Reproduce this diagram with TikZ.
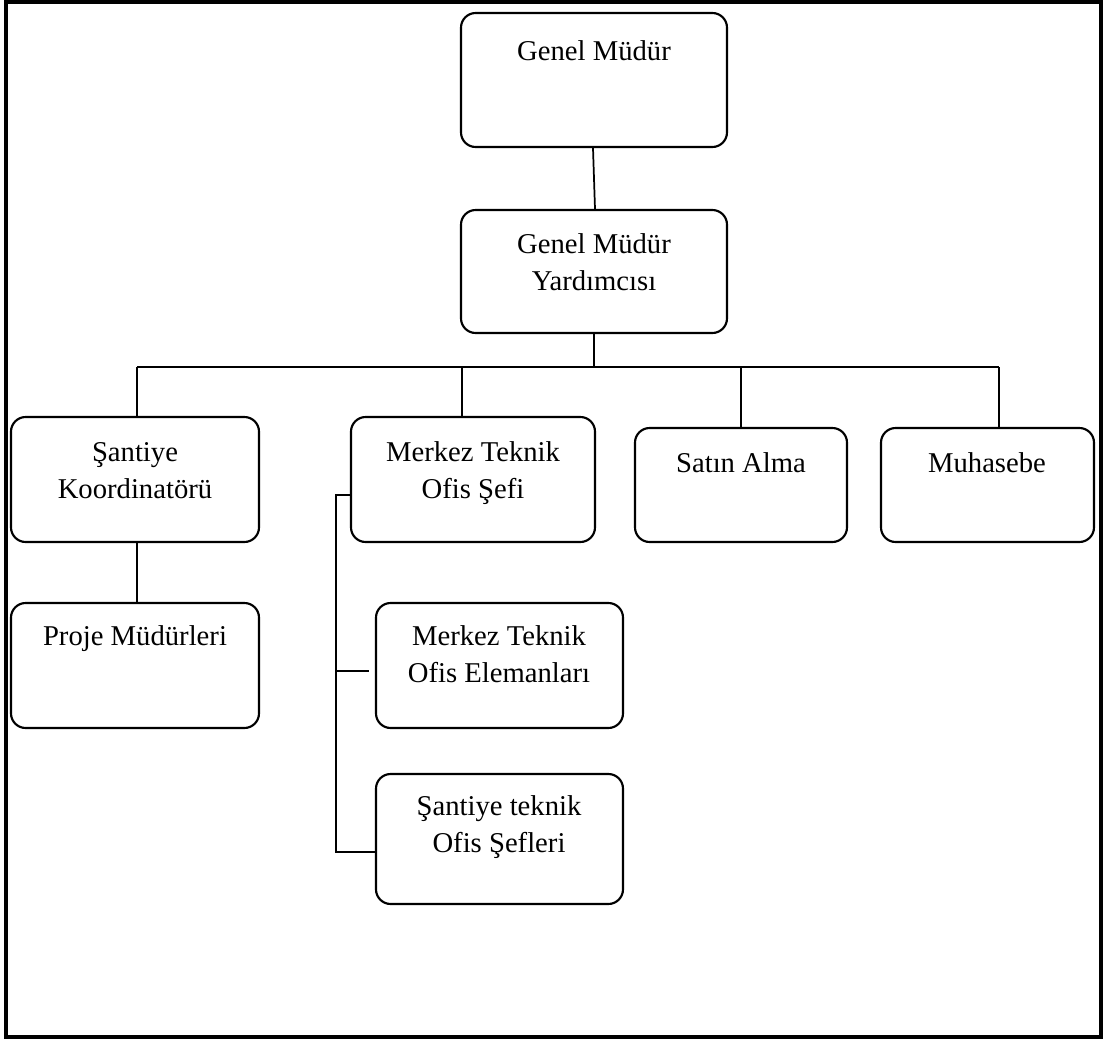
\documentclass[tikz,border=0pt]{standalone}
\usepackage{fontspec}
\setmainfont{Liberation Serif}
\usetikzlibrary{fit,calc}
\begin{document}
\begin{tikzpicture}[x=0.75pt,y=-0.75pt,
  box/.style={draw, rounded corners=11pt, line width=1.6pt, inner sep=0pt},
  lbl/.style={font=\fontsize{21.5}{27.75}\selectfont, align=center, anchor=base, inner sep=0pt},
  conn/.style={line width=1.3pt}]
\useasboundingbox (0,0) rectangle (1107,1043);
\node[draw, line width=2.4pt, fit={(6,2)(1101,1037)}, inner sep=0pt] (frame) {};
% boxes
\node[box, fit={(461,13)(727,147)}] (gm) {};
\node[box, fit={(461,210)(727,333)}] (gmy) {};
\node[box, fit={(11,417)(259,542)}] (sk) {};
\node[box, fit={(351,417)(595,542)}] (mts) {};
\node[box, fit={(635,428)(847,542)}] (sa) {};
\node[box, fit={(881,428)(1094,542)}] (mu) {};
\node[box, fit={(11,603)(259,728)}] (pm) {};
\node[box, fit={(376,603)(623,728)}] (mtoe) {};
\node[box, fit={(376,774)(623,904)}] (stos) {};
% texts (base = last line baseline)
\node[lbl] (gmt) at (594,60) {Genel Müdür};
\node[lbl] (gmyt) at (594,290) {Genel Müdür\\Yardımcısı};
\node[lbl] (skt) at (135,498) {Şantiye\\Koordinatörü};
\node[lbl] (mtst) at (473,498) {Merkez Teknik\\Ofis Şefi};
\node[lbl] (sat) at (741,472) {Satın Alma};
\node[lbl] (mut) at (987,472) {Muhasebe};
\node[lbl] (pmt) at (135,645) {Proje Müdürleri};
\node[lbl] (mtoet) at (499,682) {Merkez Teknik\\Ofis Elemanları};
\node[lbl] (stost) at (499,852) {Şantiye teknik\\Ofis Şefleri};
% connectors
\draw[conn] ($(gm.south)+(-1,0)$) -- ($(gmy.north)+(1,0)$);
\coordinate (bl) at (137,367);
\coordinate (bm) at (462,367);
\coordinate (bs) at (741,367);
\coordinate (br) at (999,367);
\draw[conn] (gmy.south) -- (gmy.south |- bl);
\draw[conn] (bl) -- (br);
\draw[conn] (bl) -- (bl |- sk.north);
\draw[conn] (bm) -- (bm |- mts.north);
\draw[conn] (bs) -- (bs |- sa.north);
\draw[conn] (br) -- (br |- mu.north);
\draw[conn] (sk.south -| bl) -- (pm.north -| bl);
\coordinate (k1) at (336,495);
\coordinate (k2) at (336,671);
\coordinate (k3) at (336,852);
\draw[conn] (k1 -| mts.west) -- (k1) -- (k3) -- (k3 -| stos.west);
\draw[conn] (k2) -- ($(k2 -| mtoe.west)+(-6,0)$);
\end{tikzpicture}
\end{document}
